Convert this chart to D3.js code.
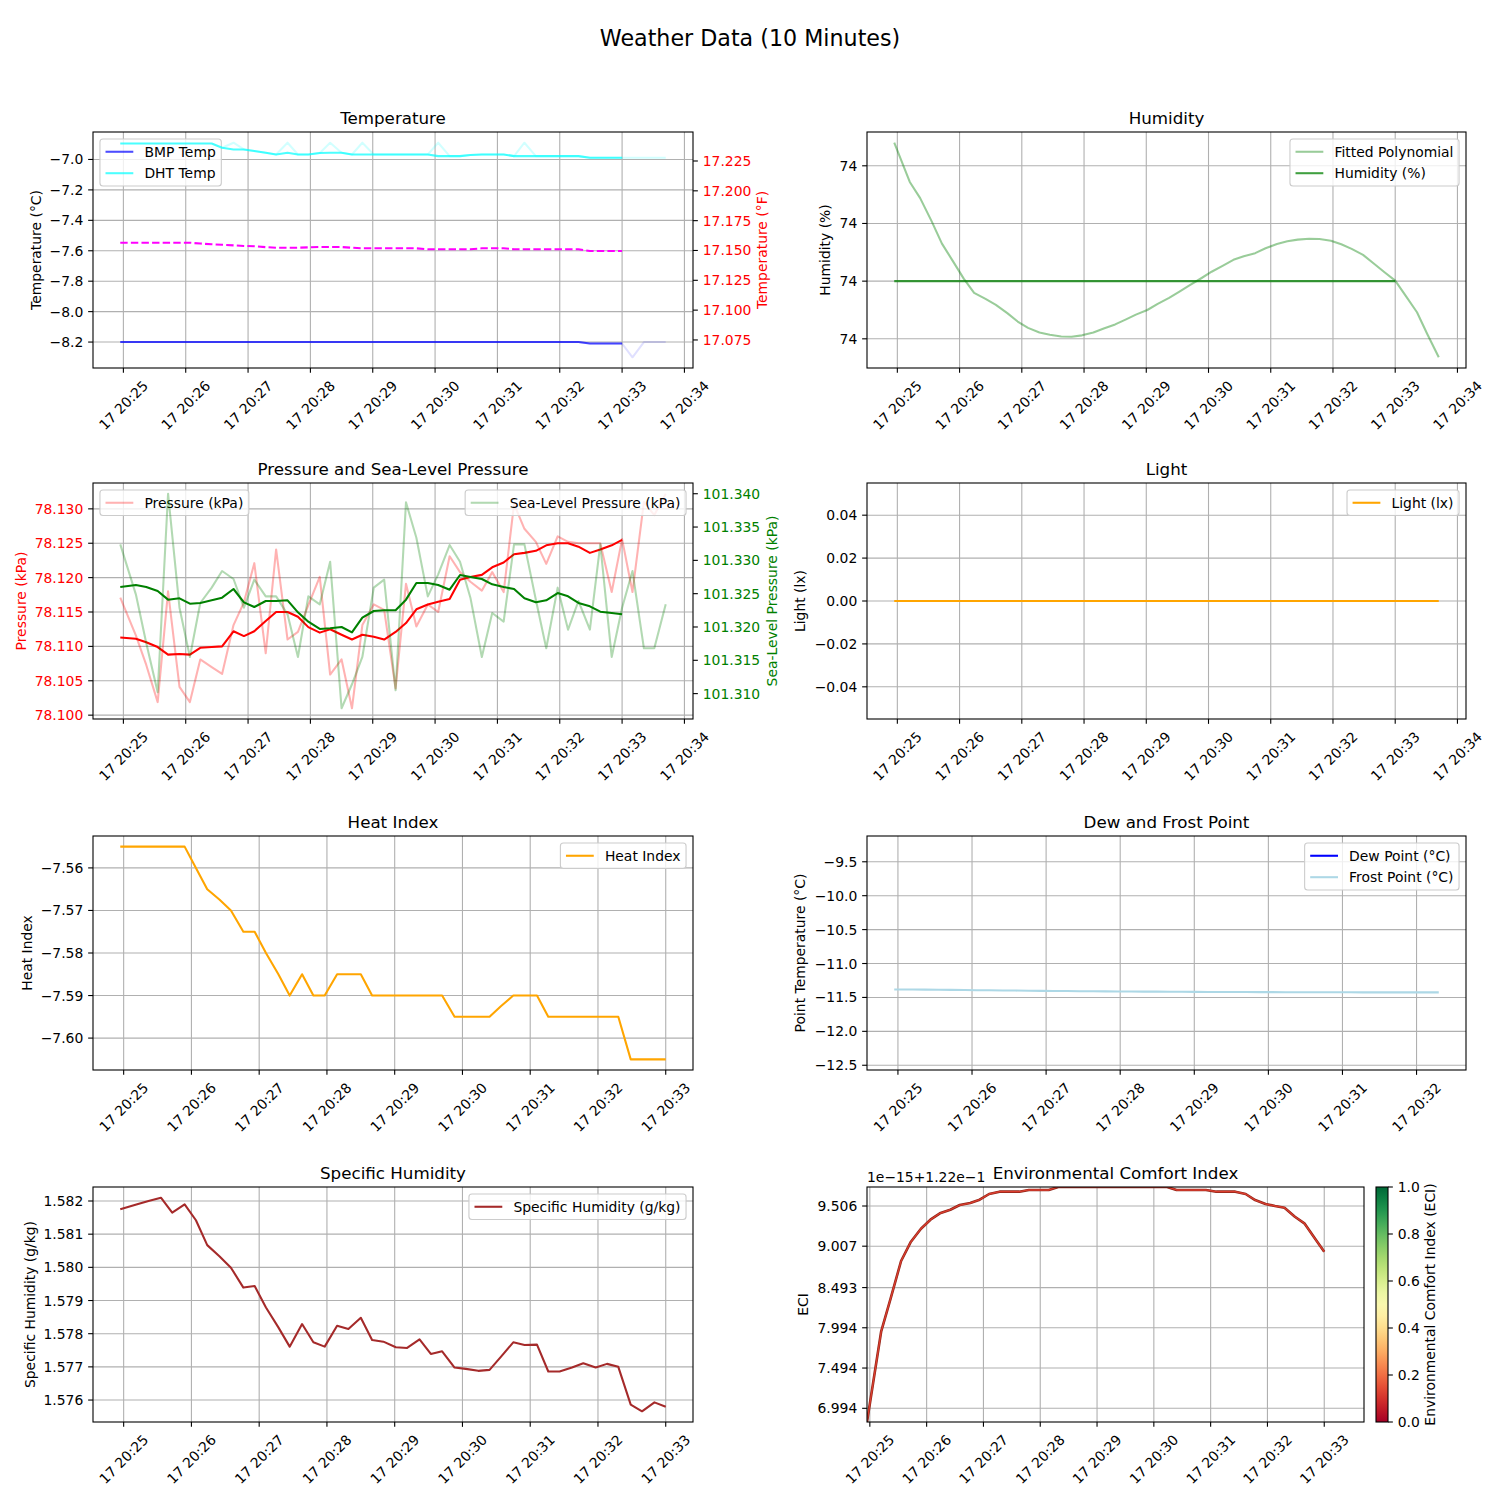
<!DOCTYPE html>
<html>
<head>
<meta charset="utf-8">
<script src="https://cdn.jsdelivr.net/npm/d3@7"></script>
<style>
  html,body{margin:0;padding:0;background:#fff;}
  svg text{font-family:"DejaVu Sans","Liberation Sans",sans-serif;}
</style>
</head>
<body>
<svg id="chart" width="1500" height="1500" xmlns="http://www.w3.org/2000/svg"></svg>
<script>
// ---------------- DATA ----------------
const dateStr = "2024-01-17";
const timeStamps = ["20:24:57","20:25:12","20:25:22","20:25:33","20:25:43","20:25:54","20:26:04","20:26:14","20:26:25","20:26:35",
  "20:26:46","20:26:56","20:27:06","20:27:17","20:27:27","20:27:38","20:27:48","20:27:58","20:28:09","20:28:19",
  "20:28:30","20:28:40","20:28:50","20:29:01","20:29:11","20:29:22","20:29:32","20:29:42","20:29:53","20:30:03",
  "20:30:14","20:30:24","20:30:34","20:30:45","20:30:55","20:31:06","20:31:16","20:31:26","20:31:37","20:31:47",
  "20:31:58","20:32:08","20:32:18","20:32:29","20:32:39","20:32:50","20:33:00","20:33:10","20:33:21","20:33:31","20:33:42"];

// Temperature (°C)
const bmpTempRaw = [-8.20,-8.20,-8.20,-8.20,-8.20,-8.20,-8.20,-8.20,-8.20,-8.20,
  -8.20,-8.20,-8.20,-8.20,-8.20,-8.20,-8.20,-8.20,-8.20,-8.20,
  -8.20,-8.20,-8.20,-8.20,-8.20,-8.20,-8.20,-8.20,-8.20,-8.20,
  -8.20,-8.20,-8.20,-8.20,-8.20,-8.20,-8.20,-8.20,-8.20,-8.20,
  -8.20,-8.20,-8.20,-8.21,-8.21,-8.21,-8.21,-8.30,-8.20,-8.20,-8.20];
const bmpTemp = [-8.20,-8.20,-8.20,-8.20,-8.20,-8.20,-8.20,-8.20,-8.20,-8.20,
  -8.20,-8.20,-8.20,-8.20,-8.20,-8.20,-8.20,-8.20,-8.20,-8.20,
  -8.20,-8.20,-8.20,-8.20,-8.20,-8.20,-8.20,-8.20,-8.20,-8.20,
  -8.20,-8.20,-8.20,-8.20,-8.20,-8.20,-8.20,-8.20,-8.20,-8.20,
  -8.20,-8.20,-8.20,-8.21,-8.21,-8.21,-8.21];
const dhtTempRaw = [-6.895,-6.895,-6.895,-6.895,-6.895,-6.895,-6.895,-6.895,-6.895,-6.923,
  -6.890,-6.934,-6.945,-6.956,-6.967,-6.890,-6.967,-6.967,-6.958,-6.890,
  -6.956,-6.967,-6.890,-6.967,-6.967,-6.967,-6.967,-6.967,-6.967,-6.890,
  -6.978,-6.978,-6.971,-6.967,-6.967,-6.967,-6.978,-6.890,-6.978,-6.978,
  -6.978,-6.978,-6.978,-6.989,-6.989,-6.989,-6.989,-6.989,-6.989,-6.989,-6.989];
const dhtTemp = [-6.895,-6.895,-6.895,-6.895,-6.895,-6.895,-6.895,-6.895,-6.895,-6.923,
  -6.934,-6.934,-6.945,-6.956,-6.967,-6.956,-6.967,-6.967,-6.958,-6.956,
  -6.956,-6.967,-6.967,-6.967,-6.967,-6.967,-6.967,-6.967,-6.967,-6.978,
  -6.978,-6.978,-6.971,-6.967,-6.967,-6.967,-6.978,-6.978,-6.978,-6.978,
  -6.978,-6.978,-6.978,-6.989,-6.989,-6.989,-6.989];
// Temperature (°F), right axis
const tempF = [17.1565,17.1565,17.1565,17.1565,17.1565,17.1565,17.1565,17.1558,17.1552,17.1548,
  17.1543,17.1538,17.1535,17.1528,17.1523,17.1523,17.1523,17.1526,17.1529,17.1529,
  17.1529,17.1523,17.1518,17.1518,17.1518,17.1518,17.1518,17.1518,17.1510,17.1510,
  17.1510,17.1510,17.1510,17.1518,17.1518,17.1518,17.1510,17.1510,17.1510,17.1510,
  17.1510,17.1510,17.1510,17.1496,17.1496,17.1496,17.1496];
const tempFDomain = [17.0515, 17.2493];
const tempCTicks = [-8.2,-8.0,-7.8,-7.6,-7.4,-7.2,-7.0];
const tempFTicks = [17.075,17.100,17.125,17.150,17.175,17.200,17.225];

// Humidity (%): constant 74; fitted polynomial deviation from 74 % in units of 1e-14 %
const humidityPct = [74,74,74,74,74,74,74,74,74,74,74,74,74,74,74,74,74,74,74,74,74,74,74,74,
  74,74,74,74,74,74,74,74,74,74,74,74,74,74,74,74,74,74,74,74,74,74,74];
const humidityBase = 74;
const humidityFitDelta = [2.40,1.72,1.44,1.04,0.65,0.335,0.044,-0.202,-0.307,-0.412,
  -0.555,-0.70,-0.81,-0.89,-0.93,-0.96,-0.965,-0.94,-0.89,-0.82,
  -0.75,-0.667,-0.58,-0.50,-0.394,-0.29,-0.18,-0.07,0.05,0.163,
  0.27,0.37,0.432,0.485,0.571,0.645,0.69,0.72,0.736,0.73,
  0.70,0.64,0.56,0.455,0.31,0.15,0.01,-0.25,-0.54,-0.92,-1.32];
const humidityTickDelta = [-1,0,1,2];

// Pressure (kPa)
const pressureRaw = [78.1171,78.1116,78.1073,78.1019,78.1180,78.1041,78.1019,78.1081,78.1070,78.1060,
  78.1131,78.1164,78.1221,78.1090,78.1241,78.1110,78.1121,78.1160,78.1201,78.1059,
  78.1081,78.1010,78.1131,78.1161,78.1153,78.1039,78.1191,78.1129,78.1161,78.1150,
  78.1231,78.1208,78.1194,78.1181,78.1208,78.1179,78.1307,78.1271,78.1252,78.1220,
  78.1260,78.1252,78.1250,78.1250,78.1250,78.1179,78.1256,78.1179,78.1310,78.1291,78.1322];
const pressureSmooth = [78.1113,78.1111,78.1106,78.1099,78.1088,78.1089,78.1088,78.1098,78.1099,78.1100,
  78.1122,78.1115,78.1122,78.1137,78.1150,78.1150,78.1143,78.1128,78.1120,78.1125,
  78.1117,78.1110,78.1117,78.1114,78.1110,78.1121,78.1134,78.1154,78.1161,78.1165,
  78.1169,78.1197,78.1201,78.1204,78.1215,78.1222,78.1234,78.1236,78.1239,78.1247,
  78.1250,78.1250,78.1245,78.1236,78.1241,78.1247,78.1255];
const seaLevelRaw = [101.3324,101.3249,101.3176,101.3102,101.3400,101.3229,101.3155,101.3236,101.3259,101.3284,
  101.3272,101.3229,101.3271,101.3246,101.3246,101.3219,101.3155,101.3246,101.3234,101.3298,
  101.3078,101.3114,101.3155,101.3259,101.3271,101.3105,101.3387,101.3334,101.3246,101.3279,
  101.3323,101.3298,101.3244,101.3155,101.3221,101.3208,101.3324,101.3324,101.3241,101.3168,
  101.3259,101.3196,101.3239,101.3196,101.3324,101.3155,101.3229,101.3284,101.3168,101.3168,101.3234];
const seaLevelSmooth = [101.3260,101.3263,101.3260,101.3254,101.3241,101.3243,101.3235,101.3236,101.3240,101.3244,
  101.3257,101.3237,101.3230,101.3239,101.3239,101.3240,101.3222,101.3208,101.3197,101.3198,
  101.3200,101.3192,101.3214,101.3224,101.3225,101.3225,101.3241,101.3266,101.3266,101.3263,
  101.3256,101.3278,101.3275,101.3272,101.3264,101.3260,101.3257,101.3243,101.3237,101.3240,
  101.3251,101.3246,101.3236,101.3231,101.3223,101.3221,101.3219];
const pressureTicks = [78.100,78.105,78.110,78.115,78.120,78.125,78.130];
const seaLevelTicks = [101.310,101.315,101.320,101.325,101.330,101.335,101.340];

// Light (lx)
const lightLux = [0,0,0,0,0,0,0,0,0,0,0,0,0,0,0,0,0,0,0,0,0,0,0,0,0,0,0,0,0,0,0,0,0,0,0,0,0,0,0,0,0,0,0,0,0,0,0,0,0,0,0];
const lightDomain = [-0.055, 0.055];
const lightTicks = [-0.04,-0.02,0.00,0.02,0.04];

// Heat index
const heatIndex = [-7.555,-7.555,-7.555,-7.555,-7.555,-7.555,-7.560,-7.565,-7.5675,-7.570,
  -7.575,-7.575,-7.580,-7.585,-7.590,-7.585,-7.590,-7.590,-7.585,-7.585,
  -7.585,-7.590,-7.590,-7.590,-7.590,-7.590,-7.590,-7.590,-7.595,-7.595,
  -7.595,-7.595,-7.5925,-7.590,-7.590,-7.590,-7.595,-7.595,-7.595,-7.595,
  -7.595,-7.595,-7.595,-7.605,-7.605,-7.605,-7.605];
const heatTicks = [-7.60,-7.59,-7.58,-7.57,-7.56];

// Dew / frost point (°C)
const frostPoint = [-11.382,-11.383,-11.385,-11.387,-11.389,-11.391,-11.393,-11.395,-11.397,-11.399,
  -11.401,-11.403,-11.405,-11.406,-11.408,-11.410,-11.411,-11.412,-11.413,-11.414,
  -11.415,-11.416,-11.417,-11.418,-11.419,-11.420,-11.421,-11.421,-11.422,-11.422,
  -11.423,-11.423,-11.423,-11.424,-11.424,-11.424,-11.425,-11.425,-11.425,-11.425,
  -11.426,-11.426,-11.426];
const dewDomain = [-12.57, -9.12];
const dewTicks = [-12.5,-12.0,-11.5,-11.0,-10.5,-10.0,-9.5];

// Specific humidity (g/kg)
const specificHumidity = [1.58175,1.58190,1.58200,1.58210,1.58165,1.58190,1.58142,1.58067,1.58033,1.57999,
  1.57939,1.57944,1.57879,1.57819,1.57761,1.57829,1.57774,1.57761,1.57824,1.57814,
  1.57848,1.57781,1.57776,1.57759,1.57757,1.57783,1.57739,1.57747,1.57698,1.57694,
  1.57688,1.57691,1.57730,1.57774,1.57766,1.57767,1.57686,1.57686,1.57698,1.57711,
  1.57698,1.57709,1.57700,1.57586,1.57566,1.57593,1.57580];
const specTicks = [1.576,1.577,1.578,1.579,1.580,1.581,1.582];

// Environmental comfort index (display units of the offset axis)
const eci = [6.824,7.95,8.36,8.823,9.055,9.224,9.336,9.415,9.460,9.518,
  9.543,9.584,9.655,9.684,9.684,9.684,9.705,9.705,9.705,9.742,
  9.742,9.742,9.742,9.742,9.742,9.742,9.742,9.742,9.742,9.742,
  9.742,9.705,9.705,9.705,9.705,9.684,9.684,9.684,9.655,9.580,
  9.531,9.506,9.485,9.373,9.291,9.105,8.939];
const eciTickLabels = ["6.994","7.494","7.994","8.493","9.007","9.506"];
const eciOffsetText = "1e\u221215+1.22e\u22121";
const eciNorm = 0.122;
const cbarTicks = [0,0.2,0.4,0.6,0.8,1.0];

// ---------------- DRAWING ----------------
const FS = 13.9, TICK = 4.86, TPAD = 4.86, LW = 2.08;
const svg = d3.select("#chart");
svg.append("rect").attr("width",1500).attr("height",1500).attr("fill","#fff");
const defs = svg.append("defs");

const parseT = d3.timeParse("%Y-%m-%d %H:%M:%S");
const times = timeStamps.map(s => parseT(dateStr + " " + s));
const mainTimes = times.slice(0, heatIndex.length);
const dewTimes = times.slice(0, frostPoint.length);

function padExtent(arr, f = 0.05) { const e = d3.extent(arr); const r = e[1]-e[0]; return [e[0]-r*f, e[1]+r*f]; }
function padTimes(ts, f = 0.05) { const e = d3.extent(ts); const r = e[1]-e[0]; return [new Date(+e[0]-r*f), new Date(+e[1]+r*f)]; }

const COL_L = {x0:93, x1:693}, COL_R = {x0:867, x1:1466};
const ROWS = [{y0:132,y1:368},{y0:483,y1:719},{y0:836,y1:1070},{y0:1187,y1:1422}];

let clipN = 0;
function makeAxes(b, xDomain, yDomain, title) {
  const g = svg.append("g");
  const x = d3.scaleTime().domain(xDomain).range([b.x0, b.x1]);
  const y = d3.scaleLinear().domain(yDomain).range([b.y1, b.y0]);
  const id = "clip" + (clipN++);
  defs.append("clipPath").attr("id", id).append("rect")
    .attr("x", b.x0).attr("y", b.y0).attr("width", b.x1-b.x0).attr("height", b.y1-b.y0);
  const grid = g.append("g").attr("stroke", "#b0b0b0").attr("stroke-width", 1.1);
  const xTicks = d3.timeMinute.range(d3.timeMinute.ceil(xDomain[0]), new Date(+xDomain[1]+1));
  const fmt = d3.timeFormat("%d %H:%M");
  xTicks.forEach(t => {
    const px = x(t);
    grid.append("line").attr("x1",px).attr("x2",px).attr("y1",b.y0).attr("y2",b.y1);
    g.append("line").attr("x1",px).attr("x2",px).attr("y1",b.y1).attr("y2",b.y1+TICK)
      .attr("stroke","#000").attr("stroke-width",1.1);
    g.append("text").attr("transform",`translate(${px},${b.y1+TICK+TPAD+27.5}) rotate(-45)`)
      .attr("text-anchor","middle").attr("dominant-baseline","central").attr("font-size",FS).text(fmt(t));
  });
  g.append("text").attr("x",(b.x0+b.x1)/2).attr("y",b.y0-8).attr("text-anchor","middle")
    .attr("font-size",16.7).text(title);
  const ax = {g, x, y, b, grid, clip: id};
  ax.layer = () => g.append("g").attr("clip-path", `url(#${id})`);
  ax.frame = () => g.append("rect").attr("x",b.x0).attr("y",b.y0).attr("width",b.x1-b.x0).attr("height",b.y1-b.y0)
      .attr("fill","none").attr("stroke","#000").attr("stroke-width",1.1);
  return ax;
}
function yAxis(ax, y, ticks, fmt, side, color, withGrid) {
  const b = ax.b;
  ticks.forEach(v => {
    const py = y(v);
    if (withGrid) ax.grid.append("line").attr("x1",b.x0).attr("x2",b.x1).attr("y1",py).attr("y2",py);
    const x0 = side === "left" ? b.x0 : b.x1, dir = side === "left" ? -1 : 1;
    ax.g.append("line").attr("x1",x0).attr("x2",x0+dir*TICK).attr("y1",py).attr("y2",py)
      .attr("stroke","#000").attr("stroke-width",1.1);
    ax.g.append("text").attr("x",x0+dir*(TICK+TPAD)).attr("y",py)
      .attr("text-anchor", side === "left" ? "end" : "start").attr("dominant-baseline","central")
      .attr("font-size",FS).attr("fill",color || "#000").text(fmt(v));
  });
}
function yLabel(ax, text, xc, color) {
  const yc = (ax.b.y0 + ax.b.y1) / 2;
  ax.g.append("text").attr("transform",`translate(${xc},${yc}) rotate(-90)`)
    .attr("text-anchor","middle").attr("dominant-baseline","central")
    .attr("font-size",FS).attr("fill",color || "#000").text(text);
}
function plotLine(layer, xs, ys, x, y, st) {
  const data = xs.map((t,i) => [t, ys[i]]).filter(d => d[1] != null);
  layer.append("path").datum(data)
    .attr("d", d3.line().x(d => x(d[0])).y(d => y(d[1])))
    .attr("fill","none").attr("stroke",st.color).attr("stroke-width",st.width || LW)
    .attr("stroke-linejoin","round").attr("stroke-dasharray", st.dash || null);
}
function legend(ax, loc, items) {
  const pad = 0.4*FS, hl = 2*FS, htp = 0.8*FS, ls = 0.5*FS, bap = 0.5*FS, h = 14.5;
  const lg = ax.g.append("g");
  let maxW = 0;
  items.forEach(it => {
    const t = lg.append("text").attr("font-size",FS).text(it.label);
    maxW = Math.max(maxW, t.node().getComputedTextLength()); t.remove();
  });
  const w = 2*pad + hl + htp + maxW, H = 2*pad + items.length*h + (items.length-1)*ls;
  const bx = loc === "ul" ? ax.b.x0 + bap : ax.b.x1 - bap - w, by = ax.b.y0 + bap;
  lg.append("rect").attr("x",bx).attr("y",by).attr("width",w).attr("height",H).attr("rx",3)
    .attr("fill","#fff").attr("fill-opacity",0.8).attr("stroke","#cccccc").attr("stroke-width",1.1);
  items.forEach((it,i) => {
    const cy = by + pad + i*(h+ls) + h/2;
    lg.append("line").attr("x1",bx+pad).attr("x2",bx+pad+hl).attr("y1",cy).attr("y2",cy)
      .attr("stroke",it.color).attr("stroke-width",it.width || LW).attr("stroke-dasharray", it.dash || null);
    lg.append("text").attr("x",bx+pad+hl+htp).attr("y",cy).attr("dominant-baseline","central")
      .attr("font-size",FS).text(it.label);
  });
}

// Suptitle
svg.append("text").attr("x",750).attr("y",46).attr("text-anchor","middle").attr("font-size",22.2)
  .text("Weather Data (10 Minutes)");

const f1 = d3.format(".1f"), f2 = d3.format(".2f"), f3 = d3.format(".3f");

// ---- Temperature ----
{
  const ax = makeAxes({...COL_L, ...ROWS[0]}, padTimes(times), padExtent(bmpTempRaw.concat(dhtTempRaw)), "Temperature");
  yAxis(ax, ax.y, tempCTicks, f1, "left", "#000", true);
  yLabel(ax, "Temperature (°C)", 36);
  const yF = d3.scaleLinear().domain(tempFDomain).range([ax.b.y1, ax.b.y0]);
  yAxis(ax, yF, tempFTicks, f3, "right", "red", false);
  yLabel(ax, "Temperature (°F)", 762, "red");
  const L1 = ax.layer();
  plotLine(L1, times, bmpTempRaw, ax.x, ax.y, {color:"rgba(0,0,255,0.12)"});
  plotLine(L1, times, dhtTempRaw, ax.x, ax.y, {color:"rgba(0,255,255,0.18)"});
  plotLine(L1, mainTimes, bmpTemp, ax.x, ax.y, {color:"rgba(0,0,255,0.7)"});
  legend(ax, "ul", [{label:"BMP Temp", color:"rgba(0,0,255,0.7)"}, {label:"DHT Temp", color:"rgba(0,255,255,0.7)"}]);
  const L2 = ax.layer();
  plotLine(L2, mainTimes, dhtTemp, ax.x, ax.y, {color:"rgba(0,255,255,0.7)"});
  plotLine(L2, mainTimes, tempF, ax.x, yF, {color:"magenta", dash:"7.4,3.2"});
  ax.frame();
}

// ---- Humidity ----
{
  const ax = makeAxes({...COL_R, ...ROWS[0]}, padTimes(times), padExtent(humidityFitDelta), "Humidity");
  yAxis(ax, ax.y, humidityTickDelta, d => d3.format(".0f")(humidityBase + d*1e-14), "left", "#000", true);
  yLabel(ax, "Humidity (%)", 825);
  const L1 = ax.layer();
  plotLine(L1, times, humidityFitDelta, ax.x, ax.y, {color:"rgba(0,128,0,0.4)"});
  plotLine(L1, mainTimes, humidityPct.map(v => (v - humidityBase)), ax.x, ax.y, {color:"rgba(0,128,0,0.75)"});
  legend(ax, "ur", [{label:"Fitted Polynomial", color:"rgba(0,128,0,0.4)"}, {label:"Humidity (%)", color:"rgba(0,128,0,0.75)"}]);
  ax.frame();
}

// ---- Pressure ----
{
  const ax = makeAxes({...COL_L, ...ROWS[1]}, padTimes(times), padExtent(pressureRaw), "Pressure and Sea-Level Pressure");
  yAxis(ax, ax.y, pressureTicks, f3, "left", "red", true);
  yLabel(ax, "Pressure (kPa)", 21, "red");
  const yS = d3.scaleLinear().domain(padExtent(seaLevelRaw)).range([ax.b.y1, ax.b.y0]);
  yAxis(ax, yS, seaLevelTicks, f3, "right", "green", false);
  yLabel(ax, "Sea-Level Pressure (kPa)", 772, "green");
  const L1 = ax.layer();
  plotLine(L1, times, pressureRaw, ax.x, ax.y, {color:"rgba(255,0,0,0.3)"});
  plotLine(L1, mainTimes, pressureSmooth, ax.x, ax.y, {color:"red"});
  legend(ax, "ul", [{label:"Pressure (kPa)", color:"rgba(255,0,0,0.3)"}]);
  const L2 = ax.layer();
  plotLine(L2, times, seaLevelRaw, ax.x, yS, {color:"rgba(0,128,0,0.3)"});
  plotLine(L2, mainTimes, seaLevelSmooth, ax.x, yS, {color:"green"});
  legend(ax, "ur", [{label:"Sea-Level Pressure (kPa)", color:"rgba(0,128,0,0.3)"}]);
  ax.frame();
}

// ---- Light ----
{
  const ax = makeAxes({...COL_R, ...ROWS[1]}, padTimes(times), lightDomain, "Light");
  yAxis(ax, ax.y, lightTicks, f2, "left", "#000", true);
  yLabel(ax, "Light (lx)", 800);
  const L1 = ax.layer();
  plotLine(L1, times, lightLux, ax.x, ax.y, {color:"orange"});
  legend(ax, "ur", [{label:"Light (lx)", color:"orange"}]);
  ax.frame();
}

// ---- Heat Index ----
{
  const ax = makeAxes({...COL_L, ...ROWS[2]}, padTimes(mainTimes), padExtent(heatIndex), "Heat Index");
  yAxis(ax, ax.y, heatTicks, f2, "left", "#000", true);
  yLabel(ax, "Heat Index", 27);
  const L1 = ax.layer();
  plotLine(L1, mainTimes, heatIndex, ax.x, ax.y, {color:"orange"});
  legend(ax, "ur", [{label:"Heat Index", color:"orange"}]);
  ax.frame();
}

// ---- Dew and Frost Point ----
{
  const ax = makeAxes({...COL_R, ...ROWS[2]}, padTimes(dewTimes), dewDomain, "Dew and Frost Point");
  yAxis(ax, ax.y, dewTicks, f1, "left", "#000", true);
  yLabel(ax, "Point Temperature (°C)", 800);
  const L1 = ax.layer();
  plotLine(L1, dewTimes, frostPoint, ax.x, ax.y, {color:"lightblue"});
  legend(ax, "ur", [{label:"Dew Point (°C)", color:"blue"}, {label:"Frost Point (°C)", color:"lightblue"}]);
  ax.frame();
}

// ---- Specific Humidity ----
{
  const ax = makeAxes({...COL_L, ...ROWS[3]}, padTimes(mainTimes), padExtent(specificHumidity), "Specific Humidity");
  yAxis(ax, ax.y, specTicks, f3, "left", "#000", true);
  yLabel(ax, "Specific Humidity (g/kg)", 30);
  const L1 = ax.layer();
  plotLine(L1, mainTimes, specificHumidity, ax.x, ax.y, {color:"brown"});
  legend(ax, "ur", [{label:"Specific Humidity (g/kg)", color:"brown"}]);
  ax.frame();
}

// ---- Environmental Comfort Index ----
{
  const b = {x0:867, x1:1364, ...ROWS[3]};
  const ax = makeAxes(b, d3.extent(times), d3.extent(eci), "Environmental Comfort Index");
  yAxis(ax, ax.y, eciTickLabels.map(Number), d => eciTickLabels[eciTickLabels.indexOf(d.toFixed(3))] || f3(d), "left", "#000", true);
  yLabel(ax, "ECI", 803);
  const L1 = ax.layer();
  plotLine(L1, mainTimes, eci, ax.x, ax.y, {color:"#8e2418", width:2.6});
  plotLine(L1, mainTimes, eci, ax.x, ax.y, {color:d3.interpolateRdYlGn(eciNorm), width:1.3});
  ax.frame();
  ax.g.append("text").attr("x",b.x0).attr("y",b.y0-5).attr("font-size",FS).text(eciOffsetText);

  // colorbar
  const cb = {x0:1376, x1:1388, y0:b.y0, y1:b.y1};
  const grad = defs.append("linearGradient").attr("id","rdylgn").attr("x1",0).attr("y1",1).attr("x2",0).attr("y2",0);
  d3.range(0, 1.0001, 0.05).forEach(t => grad.append("stop").attr("offset",t).attr("stop-color",d3.interpolateRdYlGn(t)));
  svg.append("rect").attr("x",cb.x0).attr("y",cb.y0).attr("width",cb.x1-cb.x0).attr("height",cb.y1-cb.y0)
    .attr("fill","url(#rdylgn)").attr("stroke","#000").attr("stroke-width",1.1);
  const yc = d3.scaleLinear().domain([0,1]).range([cb.y1, cb.y0]);
  cbarTicks.forEach(v => {
    svg.append("line").attr("x1",cb.x1).attr("x2",cb.x1+TICK).attr("y1",yc(v)).attr("y2",yc(v))
      .attr("stroke","#000").attr("stroke-width",1.1);
    svg.append("text").attr("x",cb.x1+TICK+TPAD).attr("y",yc(v)).attr("dominant-baseline","central")
      .attr("font-size",FS).text(f1(v));
  });
  svg.append("text").attr("transform",`translate(1430,${(cb.y0+cb.y1)/2}) rotate(-90)`)
    .attr("text-anchor","middle").attr("dominant-baseline","central").attr("font-size",FS)
    .text("Environmental Comfort Index (ECI)");
}
</script>
</body>
</html>
